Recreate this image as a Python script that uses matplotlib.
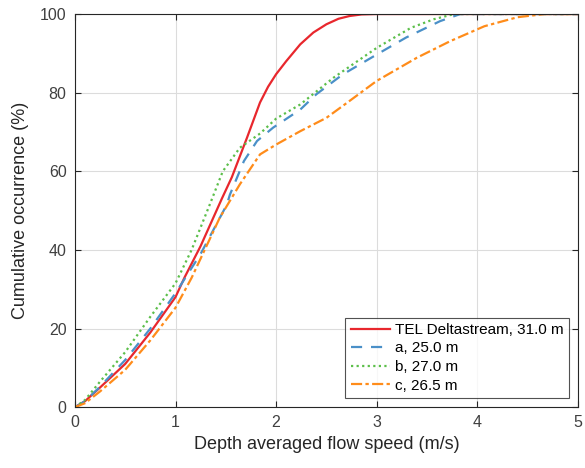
import matplotlib
matplotlib.use("Agg")
import matplotlib.pyplot as plt

plt.rcParams['font.family'] = ['Liberation Sans', 'DejaVu Sans']

# ---------------- Data ----------------
tel_x = [0, 0.1, 0.25, 0.5, 0.75, 1.0, 1.09, 1.25, 1.46, 1.56, 1.71, 1.84, 1.92, 2.0, 2.1, 2.24, 2.37, 2.5, 2.62, 2.73, 2.85, 3.0, 5.0]
tel_y = [0, 1.5, 5.0, 11.0, 19.0, 28.0, 33.0, 41.0, 53.0, 58.5, 68.5, 77.5, 81.5, 84.7, 88.0, 92.3, 95.3, 97.4, 98.8, 99.5, 99.9, 100, 100]

a_x = [0, 0.1, 0.25, 0.5, 0.75, 1.0, 1.25, 1.51, 1.54, 1.68, 1.81, 1.97, 2.24, 2.4, 2.66, 3.0, 3.29, 3.63, 3.83, 5.0]
a_y = [0, 1.5, 5.2, 12.0, 20.0, 29.0, 39.0, 51.5, 54.0, 62.6, 67.7, 71.1, 75.7, 79.6, 84.6, 89.7, 94.0, 98.2, 100, 100]

b_x = [0, 0.1, 0.25, 0.5, 0.75, 1.0, 1.16, 1.34, 1.47, 1.64, 1.84, 2.0, 2.24, 2.57, 3.0, 3.34, 3.57, 3.77, 5.0]
b_y = [0, 1.8, 6.5, 14.0, 23.0, 31.5, 40.0, 51.5, 60.0, 66.0, 69.6, 73.4, 77.0, 83.8, 91.4, 96.5, 98.7, 100, 100]

c_x = [0, 0.1, 0.25, 0.5, 0.75, 1.0, 1.16, 1.44, 1.64, 1.84, 2.0, 2.24, 2.5, 2.73, 3.0, 3.4, 3.73, 4.07, 4.4, 4.67, 5.0]
c_y = [0, 1.0, 4.0, 9.5, 17.0, 25.3, 32.9, 48.2, 56.7, 64.3, 66.8, 70.2, 73.6, 77.9, 83.0, 88.9, 93.1, 96.9, 99.2, 100, 100]

labels = ['TEL Deltastream, 31.0 m', 'a, 25.0 m', 'b, 27.0 m', 'c, 26.5 m']

# ---------------- Plot ----------------
fig = plt.figure(figsize=(5.85, 4.68), dpi=100)
ax = fig.add_axes([0.128, 0.130, 0.860, 0.840])

ax.plot(tel_x, tel_y, color='#e8272d', lw=1.6, label=labels[0])
ax.plot(a_x, a_y, color='#4a90c8', lw=1.6, ls=(0, (5, 4)), label=labels[1])
ax.plot(b_x, b_y, color='#5cbf4a', lw=1.6, ls=(0, (1, 1.5)), label=labels[2])
ax.plot(c_x, c_y, color='#ff8c1a', lw=1.6, ls=(0, (5, 1.5, 1.5, 1.5)), label=labels[3])

ax.set_xlim(0, 5)
ax.set_ylim(0, 100)
ax.set_xticks([0, 1, 2, 3, 4, 5])
ax.set_yticks([0, 20, 40, 60, 80, 100])
ax.grid(True, color='#dcdcdc', lw=0.8)
ax.set_axisbelow(True)
ax.tick_params(direction='in', top=True, right=True, length=4, labelsize=11.5,
               colors='#262626', labelcolor='#404040', pad=6)
for s in ax.spines.values():
    s.set_color('#262626')
    s.set_linewidth(0.8)

ax.set_xlabel('Depth averaged flow speed (m/s)', fontsize=13, color='#262626')
ax.set_ylabel('Cumulative occurrence (%)', fontsize=13, color='#262626', labelpad=8)

leg = ax.legend(loc='lower right', fontsize=11, frameon=True, fancybox=False,
                edgecolor='#262626', handlelength=2.6, handletextpad=0.3,
                borderpad=0.35, labelspacing=0.3, borderaxespad=0.6)
leg.get_frame().set_linewidth(0.8)

fig.savefig('out.png', dpi=100)
